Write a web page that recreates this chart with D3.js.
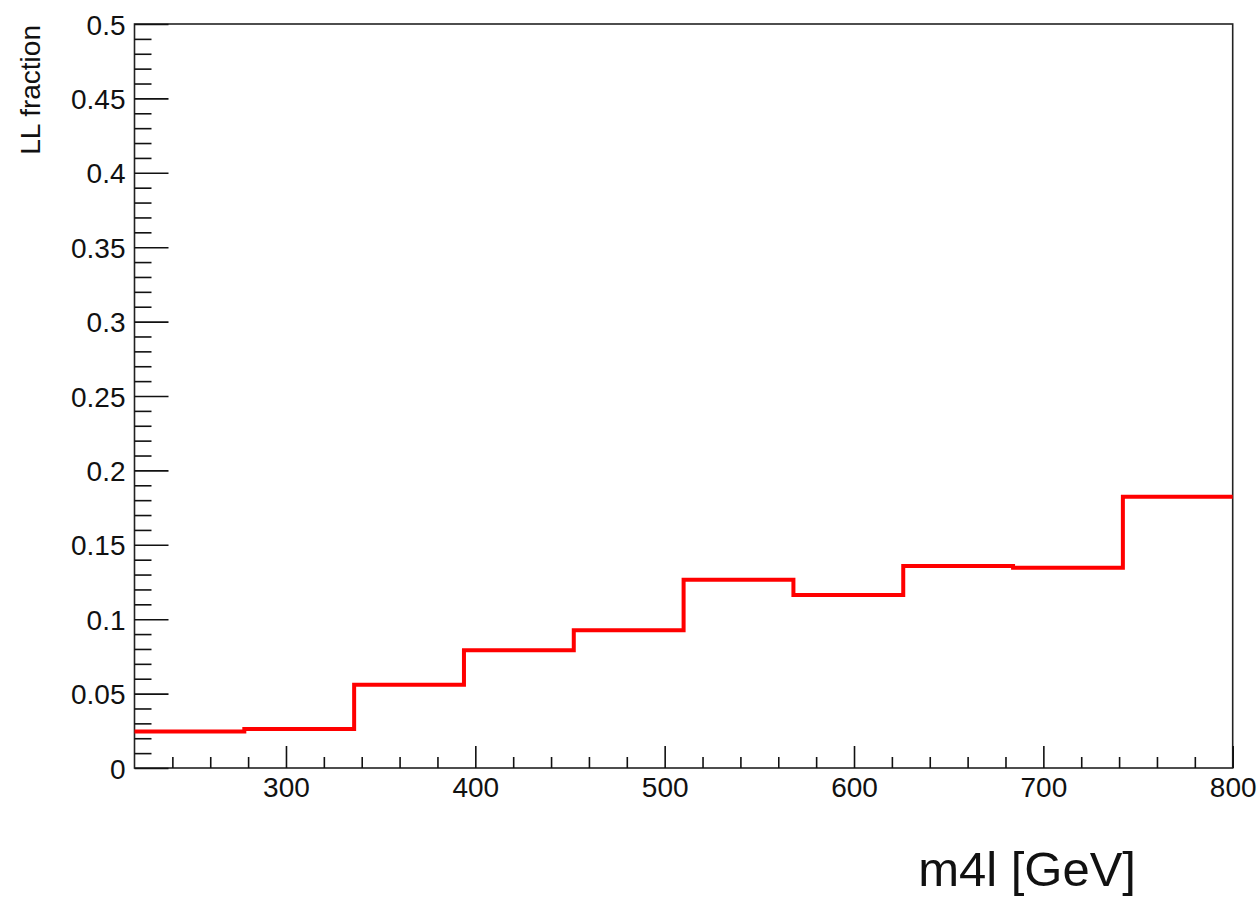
<!DOCTYPE html>
<html>
<head>
<meta charset="utf-8">
<script src="https://cdn.jsdelivr.net/npm/d3@7"></script>
<style>
  html, body { margin: 0; padding: 0; background: #fff; }
  svg { display: block; }
  text { font-family: "Liberation Sans", Arial, Helvetica, sans-serif; fill: #111; }
</style>
</head>
<body>
<svg id="chart" width="1258" height="898"></svg>
<script>
// Histogram bin edges in m4l [GeV] and the LL fraction in each bin
const binEdges = [220, 278, 336, 394, 452, 510, 568, 626, 684, 742, 800];
const llFraction = [0.0245, 0.0262, 0.0560, 0.0792, 0.0925, 0.1265, 0.1163, 0.1358, 0.1346, 0.1823];

// Axis ticks
const xMajorTicks = [300, 400, 500, 600, 700, 800];
const xTickLabels = ["300", "400", "500", "600", "700", "800"];
const xMinorTicks = [240, 260, 280, 320, 340, 360, 380, 420, 440, 460, 480, 520, 540, 560, 580,
                     620, 640, 660, 680, 720, 740, 760, 780];
const yMajorTicks = [0, 0.05, 0.1, 0.15, 0.2, 0.25, 0.3, 0.35, 0.4, 0.45, 0.5];
const yTickLabels = ["0", "0.05", "0.1", "0.15", "0.2", "0.25", "0.3", "0.35", "0.4", "0.45", "0.5"];
const yMinorTicks = d3.range(0, 50).filter(i => i % 5 !== 0).map(i => i / 100);

const xTitle = "m4l [GeV]";
const yTitle = "LL fraction";

const svg = d3.select("#chart");
const frame = { left: 134.5, right: 1232.7, top: 24, bottom: 768 };

const x = d3.scaleLinear().domain([220, 800]).range([frame.left, frame.right]);
const y = d3.scaleLinear().domain([0, 0.5]).range([frame.bottom, frame.top]);

// Frame box
svg.append("rect")
  .attr("x", frame.left).attr("y", frame.top)
  .attr("width", frame.right - frame.left)
  .attr("height", frame.bottom - frame.top)
  .attr("fill", "none")
  .attr("stroke", "#222")
  .attr("stroke-width", 1.6);

// X axis: major ticks with labels, then minor ticks
const xAxis = d3.axisTop(x)
  .tickValues(xMajorTicks)
  .tickSize(22)
  .tickFormat((d, i) => xTickLabels[i]);
const gx = svg.append("g").attr("transform", `translate(0,${frame.bottom})`).call(xAxis);
gx.select(".domain").remove();
gx.selectAll(".tick line").attr("stroke", "#111").attr("stroke-width", 1.6);
gx.selectAll(".tick text")
  .attr("y", 29)
  .attr("dy", 0)
  .attr("font-size", 28)
  .attr("text-anchor", "middle")
  .style("font-family", "'Liberation Sans', Arial, sans-serif")
  .attr("fill", "#111");

const xMinor = d3.axisTop(x).tickValues(xMinorTicks).tickSize(11).tickFormat("");
const gxm = svg.append("g").attr("transform", `translate(0,${frame.bottom})`).call(xMinor);
gxm.select(".domain").remove();
gxm.selectAll(".tick line").attr("stroke", "#111").attr("stroke-width", 1.6);

// Y axis: major ticks with labels, then minor ticks
const yAxis = d3.axisRight(y)
  .tickValues(yMajorTicks)
  .tickSize(34)
  .tickFormat((d, i) => yTickLabels[i]);
const gy = svg.append("g").attr("transform", `translate(${frame.left},0)`).call(yAxis);
gy.select(".domain").remove();
gy.selectAll(".tick line").attr("stroke", "#111").attr("stroke-width", 1.6);
gy.selectAll(".tick text")
  .attr("x", -9)
  .attr("dy", "0.36em")
  .attr("font-size", 28)
  .attr("text-anchor", "end")
  .style("font-family", "'Liberation Sans', Arial, sans-serif")
  .attr("fill", "#111");

const yMinor = d3.axisRight(y).tickValues(yMinorTicks).tickSize(17).tickFormat("");
const gym = svg.append("g").attr("transform", `translate(${frame.left},0)`).call(yMinor);
gym.select(".domain").remove();
gym.selectAll(".tick line").attr("stroke", "#111").attr("stroke-width", 1.6);

// Histogram outline as a step line
const steps = [];
llFraction.forEach((v, i) => {
  steps.push([binEdges[i], v]);
  steps.push([binEdges[i + 1], v]);
});
const line = d3.line().x(d => x(d[0])).y(d => y(d[1]));
svg.append("path")
  .datum(steps)
  .attr("d", line)
  .attr("fill", "none")
  .attr("stroke", "#ff0000")
  .attr("stroke-width", 4)
  .attr("stroke-linejoin", "miter");

// Axis titles
svg.append("text")
  .attr("transform", "translate(39.5,25) rotate(-90)")
  .attr("text-anchor", "end")
  .attr("font-size", 28)
  .text(yTitle);

svg.append("text")
  .attr("x", 1136)
  .attr("y", 886)
  .attr("text-anchor", "end")
  .attr("font-size", 49)
  .style("font-weight", 300)
  .text(xTitle);
</script>
</body>
</html>
